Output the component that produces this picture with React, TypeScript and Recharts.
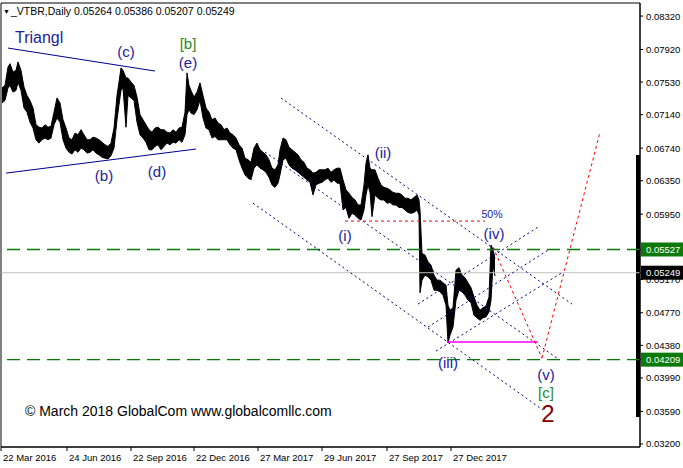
import React from "react";
import {
  ComposedChart,
  Area,
  XAxis,
  YAxis,
  ReferenceLine,
  ReferenceDot,
  ReferenceArea,
} from "recharts";

// one daily bar per pixel column; highs / lows
const bars = [
  2, 5, 8, 10, 13, 16, 18, 21, 24, 27, 30, 33, 36, 39, 42, 45, 48, 51, 54, 57, 60, 63, 66, 69, 72, 75, 78, 81, 84, 87,
  90, 93, 96, 99, 102, 105, 108, 111, 114, 117, 119, 121, 123, 126, 128, 131, 134, 137, 140, 143, 146, 149, 152, 155,
  158, 161, 164, 167, 170, 173, 176, 179, 182, 185, 187, 189, 191, 194, 197, 200, 203, 206, 209, 212, 215, 218, 221,
  224, 227, 230, 233, 236, 239, 242, 245, 248, 251, 254, 257, 260, 263, 266, 269, 272, 275, 278, 280, 283, 286, 289,
  292, 295, 298, 301, 304, 307, 310, 313, 316, 319, 322, 325, 328, 331, 334, 337, 340, 343, 346, 349, 352, 355, 358,
  361, 364, 366, 368, 370, 372, 375, 378, 381, 384, 387, 390, 393, 396, 399, 402, 405, 408, 411, 414, 417, 419, 420,
  422, 425, 428, 431, 434, 437, 440, 443, 446, 448, 450, 453, 456, 459, 462, 465, 468, 471, 474, 477, 480, 483, 486,
  489, 491, 493, 495,
];
const highs = [
  0.0746, 0.0749, 0.0771, 0.0775, 0.0765, 0.0767, 0.0777, 0.0767, 0.0747, 0.0737, 0.0731, 0.0722, 0.0702, 0.0699,
  0.0698, 0.0702, 0.0699, 0.07, 0.0717, 0.0734, 0.0728, 0.0708, 0.0698, 0.0686, 0.0684, 0.0692, 0.069, 0.0696, 0.069,
  0.0684, 0.0684, 0.0687, 0.0686, 0.0684, 0.0681, 0.0678, 0.0676, 0.068, 0.0698, 0.0737, 0.0753, 0.077, 0.0767,
  0.0758, 0.0758, 0.0753, 0.0749, 0.0735, 0.0714, 0.0708, 0.0702, 0.0696, 0.0693, 0.0698, 0.0699, 0.0696, 0.0696,
  0.0693, 0.0692, 0.0696, 0.0693, 0.0698, 0.0699, 0.0717, 0.0764, 0.0749, 0.0743, 0.0735, 0.0741, 0.0752, 0.0737,
  0.0722, 0.0717, 0.0708, 0.071, 0.0704, 0.0702, 0.0696, 0.0698, 0.0692, 0.069, 0.0686, 0.0678, 0.0674, 0.0662,
  0.066, 0.0657, 0.0674, 0.068, 0.0672, 0.0669, 0.0666, 0.066, 0.065, 0.0648, 0.0654, 0.0672, 0.0686, 0.0684, 0.0675,
  0.0672, 0.0669, 0.0666, 0.066, 0.0657, 0.065, 0.0648, 0.0644, 0.0645, 0.0648, 0.0648, 0.0648, 0.065, 0.0645,
  0.0648, 0.065, 0.065, 0.0636, 0.0624, 0.062, 0.0615, 0.0612, 0.0606, 0.0606, 0.063, 0.0656, 0.0666, 0.065, 0.0648,
  0.0648, 0.0638, 0.063, 0.0627, 0.0626, 0.0624, 0.0621, 0.062, 0.062, 0.0618, 0.0614, 0.0614, 0.0612, 0.0615,
  0.0618, 0.0612, 0.06, 0.0548, 0.0546, 0.0538, 0.0534, 0.0522, 0.0516, 0.0516, 0.0513, 0.051, 0.0486, 0.048, 0.0483,
  0.0528, 0.0531, 0.0522, 0.0519, 0.0513, 0.0507, 0.0496, 0.0486, 0.048, 0.0483, 0.0485, 0.0496, 0.0558, 0.0552,
  0.0542,
];
const lows = [
  0.0728, 0.0731, 0.0746, 0.0749, 0.0741, 0.0743, 0.0753, 0.0743, 0.0722, 0.0717, 0.0705, 0.0698, 0.0684, 0.068,
  0.0684, 0.0686, 0.0684, 0.0686, 0.0702, 0.071, 0.0705, 0.0684, 0.0674, 0.0669, 0.0667, 0.0672, 0.0669, 0.0674,
  0.0672, 0.0668, 0.0669, 0.0672, 0.0668, 0.0666, 0.0663, 0.0662, 0.0661, 0.0665, 0.0674, 0.0708, 0.0726, 0.0743,
  0.0746, 0.0699, 0.0737, 0.0734, 0.0731, 0.0705, 0.069, 0.0686, 0.0681, 0.0672, 0.0672, 0.0676, 0.0678, 0.0672,
  0.0676, 0.068, 0.0678, 0.0681, 0.068, 0.0684, 0.0681, 0.069, 0.0714, 0.072, 0.0716, 0.0714, 0.072, 0.0731, 0.071,
  0.0698, 0.0696, 0.0686, 0.0688, 0.0684, 0.0684, 0.0684, 0.0684, 0.0678, 0.0674, 0.0672, 0.066, 0.065, 0.0642,
  0.0638, 0.0636, 0.065, 0.0654, 0.065, 0.0648, 0.0645, 0.0639, 0.063, 0.0627, 0.0632, 0.0642, 0.066, 0.0662, 0.0654,
  0.065, 0.0648, 0.0645, 0.0642, 0.0639, 0.0636, 0.0633, 0.0618, 0.063, 0.0632, 0.0633, 0.0636, 0.0638, 0.0633,
  0.0636, 0.0632, 0.0632, 0.06, 0.0603, 0.059, 0.0596, 0.0594, 0.059, 0.0588, 0.06, 0.0618, 0.063, 0.0621, 0.0592,
  0.0618, 0.0614, 0.0612, 0.0612, 0.0608, 0.0609, 0.0606, 0.0606, 0.0603, 0.0603, 0.06, 0.0597, 0.0596, 0.0597, 0.06,
  0.0594, 0.0501, 0.0516, 0.0522, 0.052, 0.0516, 0.0504, 0.0504, 0.0502, 0.0498, 0.0486, 0.0441, 0.045, 0.046, 0.0492,
  0.0504, 0.0502, 0.0498, 0.0492, 0.0489, 0.0474, 0.0471, 0.0468, 0.0471, 0.0472, 0.0478, 0.0492, 0.0534, 0.0521,
];

const dateTicks = [1, 67, 131, 194, 258, 322, 387, 451];
const dateLabels = [
  "22 Mar 2016",
  "24 Jun 2016",
  "22 Sep 2016",
  "22 Dec 2016",
  "27 Mar 2017",
  "29 Jun 2017",
  "27 Sep 2017",
  "27 Dec 2017",
];
// 0.05560 sits under the 0.05527 box in the original, so it is left out
const priceTicks = [0.0832, 0.0792, 0.0753, 0.0714, 0.0674, 0.0635, 0.0595, 0.0517, 0.0477, 0.0438, 0.0399, 0.0359, 0.032];

// [from, to] as [bar, price]
const triangleLines = [
  [[8, 0.07937], [155, 0.07662]],
  [[6, 0.06441], [196, 0.06729]],
];
const channelLines = [
  [[281, 0.07339], [572, 0.04874]],
  [[265, 0.06693], [557, 0.04228]],
  [[253, 0.06082], [543, 0.03606]],
  [[418, 0.04874], [538, 0.05795]],
  [[428, 0.04599], [548, 0.0552]],
  [[436, 0.04312], [563, 0.05257]],
];
const fiftyLine = [[345, 0.05867], [485, 0.05867]];
const targetLine = [[447, 0.0442], [538, 0.0442]];
const projection = [[493, 0.05556], [542, 0.04228], [600, 0.06932]];
const scaleMarker = [636, 640, 0.03522, 0.06657];

const NAVY = "#22229b";
const GREEN = "#2a8a2a";
const waveLabels = [
  { text: "(c)", bar: 126, price: 0.07889, color: NAVY, size: 15 },
  { text: "(b)", bar: 104, price: 0.06406, color: NAVY, size: 15 },
  { text: "(d)", bar: 157, price: 0.06453, color: NAVY, size: 15 },
  { text: "[b]", bar: 188, price: 0.07985, color: GREEN, size: 15 },
  { text: "(e)", bar: 188, price: 0.07757, color: NAVY, size: 15 },
  { text: "(i)", bar: 345, price: 0.05688, color: NAVY, size: 15 },
  { text: "(ii)", bar: 383, price: 0.06681, color: NAVY, size: 15 },
  { text: "(iii)", bar: 448, price: 0.04168, color: NAVY, size: 15 },
  { text: "(iv)", bar: 494, price: 0.05712, color: NAVY, size: 15 },
  { text: "(v)", bar: 546, price: 0.04025, color: NAVY, size: 15 },
  { text: "[c]", bar: 546, price: 0.0381, color: GREEN, size: 15 },
  { text: "2", bar: 548, price: 0.0357, color: "#800000", size: 24 },
  { text: "50%", bar: 492, price: 0.05951, color: NAVY, size: 10.5 },
];

const levelPrices = [0.05527, 0.05249, 0.04209];
const levelColors = ["#0b7a0b", "#c0c0c0", "#0b7a0b"];
const levelBoxes = ["#0b7a0b", "#000000", "#0b7a0b"];

const FONT = "'Liberation Sans', Arial, sans-serif";

const data = bars.map((bar, i) => ({ bar, range: [lows[i], highs[i]] }));

const seg = (s: number[][]) => s.map(([x, y]) => ({ x, y }));

const DateTick = (props: any) => {
  const { x, y, payload } = props;
  const i = dateTicks.indexOf(payload.value);
  return (
    <text x={x + 2} y={y + 8} fontSize={9.5} fontFamily={FONT} fill="#000">
      {dateLabels[i]}
    </text>
  );
};

// level prices come last in the tick list, so their boxes are drawn over the plain labels
const PriceTick = (props: any) => {
  const { x, y, payload } = props;
  const i = levelPrices.indexOf(payload.value);
  if (i >= 0) {
    return (
      <g>
        <rect x={x - 5} y={y - 7} width={42} height={14} fill={levelBoxes[i]} />
        <text x={x} y={y + 3.5} fontSize={9.5} fontFamily={FONT} fill="#fff">
          {payload.value.toFixed(5)}
        </text>
      </g>
    );
  }
  return (
    <text x={x} y={y + 3.5} fontSize={9.5} fontFamily={FONT} fill="#000">
      {payload.value.toFixed(5)}
    </text>
  );
};

export default function App() {
  return (
    <div style={{ position: "absolute", left: 0, top: 0, background: "#fff" }}>
      <ComposedChart width={683} height={468} data={data} margin={{ top: 3, right: 0, bottom: 0, left: 1 }}>
        <XAxis
          dataKey="bar"
          type="number"
          domain={[1, 640]}
          ticks={dateTicks}
          interval={0}
          tick={<DateTick />}
          tickSize={4}
          height={21}
          axisLine={{ stroke: "#000" }}
          tickLine={{ stroke: "#000" }}
          allowDataOverflow
        />
        <YAxis
          orientation="right"
          type="number"
          domain={[0.03164, 0.08476]}
          ticks={[...priceTicks, ...levelPrices]}
          interval={0}
          tick={<PriceTick />}
          tickSize={3}
          tickMargin={3}
          width={43}
          axisLine={{ stroke: "#000" }}
          tickLine={{ stroke: "#000" }}
          allowDataOverflow
        />
        <ReferenceArea
          x1={1}
          x2={640}
          y1={0.03164}
          y2={0.08476}
          fill="none"
          stroke="#000"
          ifOverflow="visible"
        />
        <ReferenceArea
          x1={scaleMarker[0]}
          x2={scaleMarker[1]}
          y1={scaleMarker[2]}
          y2={scaleMarker[3]}
          fill="#000"
          fillOpacity={1}
          ifOverflow="visible"
        />
        {levelPrices.map((p, i) => (
          <ReferenceLine
            key={p}
            y={p}
            stroke={levelColors[i]}
            strokeWidth={i === 1 ? 1 : 1.3}
            strokeDasharray={i === 1 ? undefined : "13 7"}
            ifOverflow="visible"
          />
        ))}
        {triangleLines.map((s, i) => (
          <ReferenceLine key={"t" + i} segment={seg(s)} stroke="#000090" strokeWidth={1} ifOverflow="visible" />
        ))}
        {channelLines.map((s, i) => (
          <ReferenceLine
            key={"c" + i}
            segment={seg(s)}
            stroke="#000080"
            strokeDasharray="2 3"
            ifOverflow="visible"
          />
        ))}
        <ReferenceLine segment={seg(fiftyLine)} stroke="#ff0000" strokeDasharray="3 3" ifOverflow="visible" />
        <ReferenceLine segment={seg(targetLine)} stroke="#ff00ff" strokeWidth={1.5} ifOverflow="visible" />
        <ReferenceLine
          segment={seg([projection[0], projection[1]])}
          stroke="#ff0000"
          strokeDasharray="3 3"
          ifOverflow="visible"
        />
        <ReferenceLine
          segment={seg([projection[1], projection[2]])}
          stroke="#ff0000"
          strokeDasharray="3 3"
          ifOverflow="visible"
        />
        <Area
          type="linear"
          dataKey="range"
          stroke="#000"
          strokeWidth={1}
          fill="#000"
          fillOpacity={1}
          dot={false}
          activeDot={false}
          isAnimationActive={false}
        />
        {waveLabels.map((w) => (
          <ReferenceDot
            key={w.text + w.bar}
            x={w.bar}
            y={w.price}
            r={0}
            stroke="none"
            fill="none"
            label={{ value: w.text, position: "center", fill: w.color, fontSize: w.size, fontFamily: FONT }}
          />
        ))}
        <ReferenceDot
          x={15}
          y={0.08068}
          r={0}
          stroke="none"
          fill="none"
          label={{ value: "Triangl", position: "right", offset: 0, fill: NAVY, fontSize: 16, fontFamily: FONT }}
        />
        <ReferenceDot
          x={3}
          y={0.08379}
          r={0}
          stroke="none"
          fill="none"
          label={{ value: "▼", position: "right", offset: 0, fill: "#000", fontSize: 7, fontFamily: FONT }}
        />
        <ReferenceDot
          x={11}
          y={0.08379}
          r={0}
          stroke="none"
          fill="none"
          label={{
            value: "_VTBR,Daily  0.05264 0.05386 0.05207 0.05249",
            position: "right",
            offset: 0,
            fill: "#000",
            fontSize: 10.5,
            fontFamily: FONT,
          }}
        />
        <ReferenceDot
          x={25}
          y={0.03594}
          r={0}
          stroke="none"
          fill="none"
          label={{
            value: "© March 2018 GlobalCom www.globalcomllc.com",
            position: "right",
            offset: 0,
            fill: "#000",
            fontSize: 14,
            fontFamily: FONT,
          }}
        />
      </ComposedChart>
    </div>
  );
}
